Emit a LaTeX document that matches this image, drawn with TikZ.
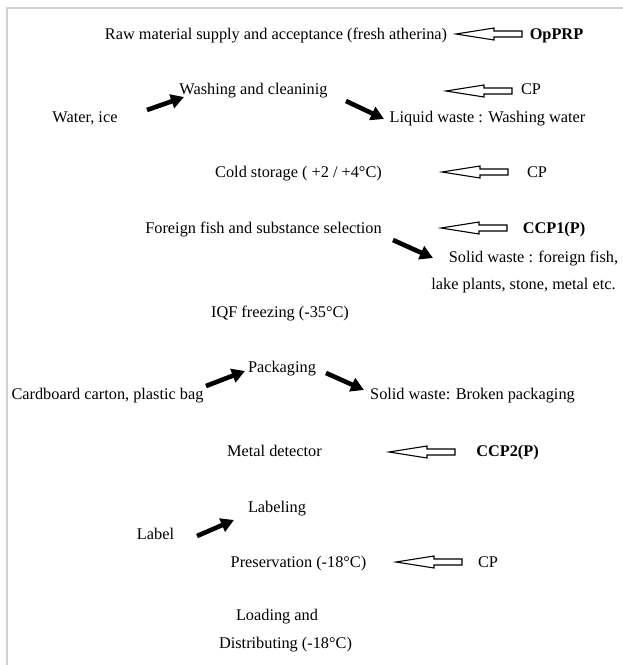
\documentclass[tikz,border=0pt]{standalone}
\usepackage{fontspec}
\setmainfont{Liberation Serif}
\usetikzlibrary{arrows.meta}
\tikzset{
  lbl/.style={font=\fontsize{16.3}{20}\selectfont, inner sep=0pt, anchor=base},
  bld/.style={lbl, font=\fontsize{16.3}{20}\selectfont\bfseries},
  boldarr/.style={line width=4.6pt, -{Triangle[length=13pt,width=14pt]}},
  pics/openarr/.style={code={
    \draw[line width=1.1pt, fill=white, line join=miter]
      (0,0) -- (38,-6) -- (38,-3) -- (66,-3) -- (66,3) -- (38,3) -- (38,6) -- cycle;
  }},
  frameline/.style={draw=black!18, line width=2.5pt}
}
\begin{document}
\begin{tikzpicture}[x=1pt,y=-1pt]
\useasboundingbox (0,0) rectangle (623,665);
\draw[frameline] (7,665) -- (7,8) -- (623,8);

% process steps
\node[lbl] (raw) at (276,39) {Raw material supply and acceptance (fresh atherina)};
\node[lbl] (wash) at (253.5,94) {Washing and cleaninig};
\node[lbl] (cold) at (298.5,177) {Cold storage ( +2 / +4°C)};
\node[lbl] (foreign) at (263.5,233) {Foreign fish and substance selection};
\node[lbl] (iqf) at (280,317) {IQF freezing (-35°C)};
\node[lbl] (pack) at (282,372) {Packaging};
\node[lbl] (metal) at (274.5,456) {Metal detector};
\node[lbl] (labeling) at (277,512) {Labeling};
\node[lbl] (pres) at (298.5,567) {Preservation (-18°C)};
\node[lbl] (load) at (277,620) {Loading and};
\node[lbl] (dist) at (285.5,648) {Distributing (-18°C)};

% inputs / outputs
\node[lbl] (water) at (85,122) {Water, ice};
\node[lbl] (liquid) at (487.5,122) {Liquid waste : Washing water};
\node[lbl] (solid1) at (533.5,262) {Solid waste : foreign fish,};
\node[lbl] (solid2) at (523.5,289) {lake plants, stone, metal etc.};
\node[lbl] (card) at (107.5,399) {Cardboard carton, plastic bag};
\node[lbl] (solidpack) at (472.5,399) {Solid waste: Broken packaging};
\node[lbl] (label) at (155.5,539) {Label};

% control points
\node[bld] (opprp) at (556.5,39) {OpPRP};
\node[lbl] (cp1) at (531,94) {CP};
\node[lbl] (cp2) at (537,177) {CP};
\node[bld] (ccp1) at (554,233) {CCP1(P)};
\node[bld] (ccp2) at (507.5,456) {CCP2(P)};
\node[lbl] (cp3) at (488,567) {CP};

% open arrows (control point markers)
\pic at (456,34) {openarr};
\pic at (446,91) {openarr};
\pic at (442,172) {openarr};
\pic at (441,228) {openarr};
\pic at (389,452) {openarr};
\pic at (396,562) {openarr};

% bold arrow ends
\coordinate (w1) at (147,110);
\coordinate (w2) at (184,97);
\coordinate (l1) at (346,101);
\coordinate (l2) at (384,119);
\coordinate (f1) at (393,240);
\coordinate (f2) at (433,258);
\coordinate (c1) at (206,386);
\coordinate (c2) at (245,371);
\coordinate (p1) at (326,373);
\coordinate (p2) at (364,390);
\coordinate (b1) at (197,536);
\coordinate (b2) at (234,520);

\draw[boldarr] (w1) -- (w2);
\draw[boldarr] (l1) -- (l2);
\draw[boldarr] (f1) -- (f2);
\draw[boldarr] (c1) -- (c2);
\draw[boldarr] (p1) -- (p2);
\draw[boldarr] (b1) -- (b2);
\end{tikzpicture}
\end{document}
